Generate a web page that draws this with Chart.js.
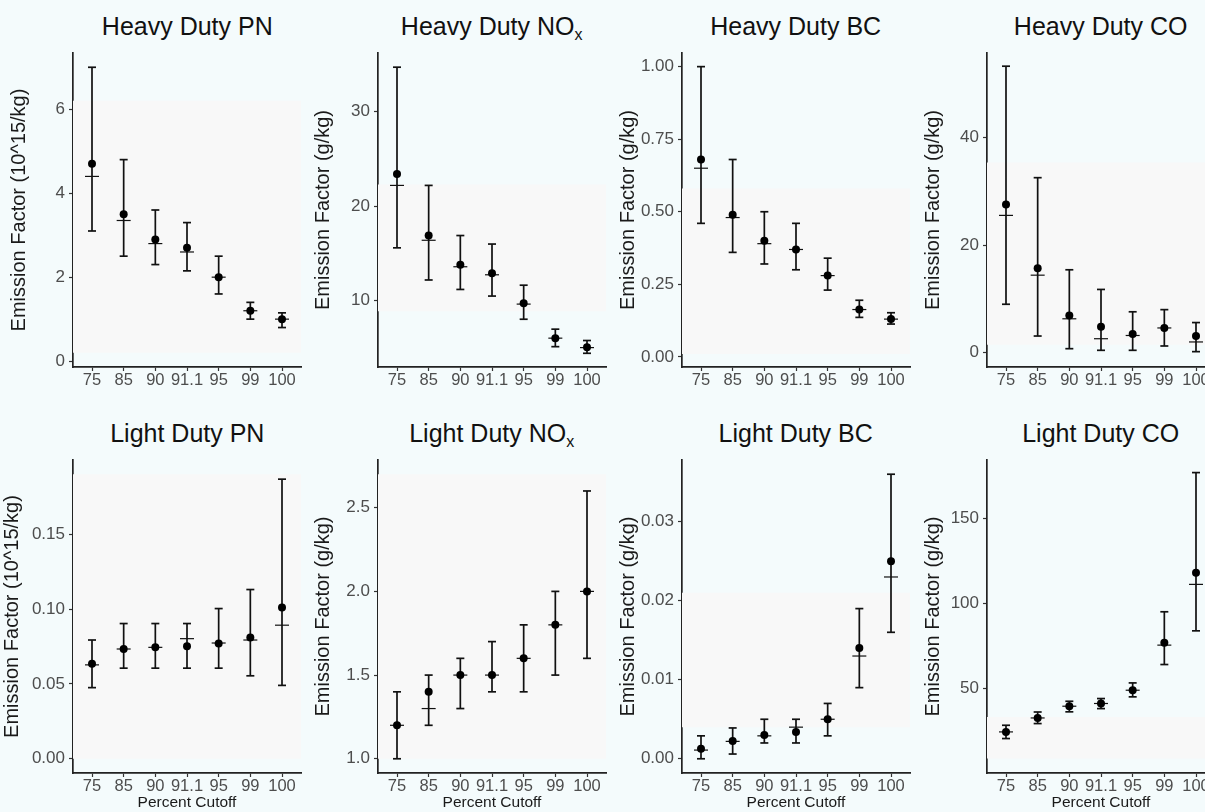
<!DOCTYPE html>
<html><head><meta charset="utf-8">
<script src="https://cdn.jsdelivr.net/npm/chart.js@4.4.1/dist/chart.umd.min.js"></script>
<style>
html,body{margin:0;padding:0;width:1205px;height:812px;overflow:hidden;background:#f4fbfc;position:relative;}
.ptitle{position:absolute;width:228px;text-align:center;font-family:"Liberation Sans",Arial,sans-serif;font-size:25px;line-height:30px;color:#111;white-space:nowrap;}
.ptitle sub{font-size:16px;vertical-align:-5px;line-height:0;}
</style></head><body>
<script>
// ---- data ----
const categories = ['75','85','90','91.1','95','99','100'];

const hdPnMean   = [4.7, 3.5, 2.9, 2.7, 2.0, 1.2, 1.0];
const hdPnMedian = [4.4, 3.35, 2.8, 2.6, 2.0, 1.2, 1.0];
const hdPnLow    = [3.1, 2.5, 2.3, 2.15, 1.6, 1.0, 0.8];
const hdPnHigh   = [7.0, 4.8, 3.6, 3.3, 2.5, 1.4, 1.15];
const hdPnBand   = [0.2, 6.2];
const hdPnTicks  = [0, 2, 4, 6];

const hdNoxMean   = [23.4, 16.9, 13.8, 12.9, 9.75, 6.05, 5.1];
const hdNoxMedian = [22.2, 16.4, 13.6, 12.75, 9.65, 6.05, 5.05];
const hdNoxLow    = [15.6, 12.2, 11.2, 10.5, 8.05, 5.15, 4.45];
const hdNoxHigh   = [34.7, 22.2, 16.9, 16.0, 11.65, 7.0, 5.8];
const hdNoxBand   = [8.9, 22.3];
const hdNoxTicks  = [10, 20, 30];

const hdBcMean   = [0.68, 0.49, 0.40, 0.37, 0.28, 0.163, 0.13];
const hdBcMedian = [0.65, 0.48, 0.39, 0.37, 0.28, 0.163, 0.13];
const hdBcLow    = [0.46, 0.36, 0.32, 0.30, 0.23, 0.136, 0.113];
const hdBcHigh   = [1.00, 0.68, 0.50, 0.46, 0.34, 0.195, 0.152];
const hdBcBand   = [0.01, 0.58];
const hdBcTicks  = [0, 0.25, 0.5, 0.75, 1.0];

const hdCoMean   = [27.5, 15.7, 6.9, 4.8, 3.5, 4.6, 3.1];
const hdCoMedian = [25.5, 14.4, 6.3, 2.6, 3.2, 4.6, 2.0];
const hdCoLow    = [9.0, 3.1, 0.75, 0.45, 0.45, 1.25, 0.2];
const hdCoHigh   = [53.2, 32.5, 15.4, 11.75, 7.6, 8.0, 5.6];
const hdCoBand   = [1.5, 35.3];
const hdCoTicks  = [0, 20, 40];

const ldPnMean   = [0.0634, 0.0733, 0.0744, 0.0751, 0.077, 0.081, 0.101];
const ldPnMedian = [0.0627, 0.0733, 0.0744, 0.0802, 0.0773, 0.0793, 0.0892];
const ldPnLow    = [0.0475, 0.0605, 0.0605, 0.0605, 0.0605, 0.0554, 0.049];
const ldPnHigh   = [0.0793, 0.0903, 0.0903, 0.0903, 0.1003, 0.113, 0.1867];
const ldPnBand   = [0, 0.19];
const ldPnTicks  = [0, 0.05, 0.10, 0.15];

const ldNoxMean   = [1.2, 1.4, 1.5, 1.5, 1.6, 1.8, 2.0];
const ldNoxMedian = [1.2, 1.3, 1.5, 1.5, 1.6, 1.8, 2.0];
const ldNoxLow    = [1.0, 1.2, 1.3, 1.4, 1.4, 1.5, 1.6];
const ldNoxHigh   = [1.4, 1.5, 1.6, 1.7, 1.8, 2.0, 2.6];
const ldNoxBand   = [1.0, 2.7];
const ldNoxTicks  = [1.0, 1.5, 2.0, 2.5];

const ldBcMean   = [0.00126, 0.00226, 0.0030, 0.0034, 0.0050, 0.0140, 0.0250];
const ldBcMedian = [0.0011, 0.0022, 0.0029, 0.0040, 0.0050, 0.0130, 0.0230];
const ldBcLow    = [0.0000, 0.0006, 0.0020, 0.0020, 0.0029, 0.0090, 0.0160];
const ldBcHigh   = [0.0029, 0.0039, 0.0050, 0.0050, 0.0070, 0.0190, 0.0360];
const ldBcBand   = [0.004, 0.021];
const ldBcTicks  = [0, 0.01, 0.02, 0.03];

const ldCoMean   = [24.5, 32.7, 39.6, 41.2, 49.0, 76.9, 118.0];
const ldCoMedian = [24.5, 32.7, 39.6, 41.2, 49.0, 75.5, 111.2];
const ldCoLow    = [20.6, 29.4, 36.3, 38.2, 45.1, 64.1, 83.9];
const ldCoHigh   = [28.4, 36.2, 42.5, 44.1, 53.3, 95.1, 176.9];
const ldCoBand   = [8.8, 33.3];
const ldCoTicks  = [50, 100, 150];

const titles = ['Heavy Duty PN', 'Heavy Duty NO<sub>x</sub>', 'Heavy Duty BC', 'Heavy Duty CO',
                'Light Duty PN', 'Light Duty NO<sub>x</sub>', 'Light Duty BC', 'Light Duty CO'];
const yTitles = ['Emission Factor (10^15/kg)', 'Emission Factor (g/kg)', 'Emission Factor (g/kg)', 'Emission Factor (g/kg)',
                 'Emission Factor (10^15/kg)', 'Emission Factor (g/kg)', 'Emission Factor (g/kg)', 'Emission Factor (g/kg)'];
const xTitle = 'Percent Cutoff';

// ---- layout / panel config ----
const FONT = '"Liberation Sans", Arial, sans-serif';
const AXIS_X = [73.3, 377.7, 681.7, 986.7];
const PLOT_W = 228;
const Y_W = 73;
const Y_TITLE_SIZE = 20;

const panels = [
  {row:0,col:0,mean:hdPnMean,median:hdPnMedian,low:hdPnLow,high:hdPnHigh,band:hdPnBand,ticks:hdPnTicks,min:-0.14,max:7.34,dec:0,dist:54},
  {row:0,col:1,mean:hdNoxMean,median:hdNoxMedian,low:hdNoxLow,high:hdNoxHigh,band:hdNoxBand,ticks:hdNoxTicks,min:3.0,max:36.2,dec:0,dist:55},
  {row:0,col:2,mean:hdBcMean,median:hdBcMedian,low:hdBcLow,high:hdBcHigh,band:hdBcBand,ticks:hdBcTicks,min:-0.035,max:1.047,dec:2,dist:53.5},
  {row:0,col:3,mean:hdCoMean,median:hdCoMedian,low:hdCoLow,high:hdCoHigh,band:hdCoBand,ticks:hdCoTicks,min:-2.65,max:55.65,dec:0,dist:53.7},
  {row:1,col:0,mean:ldPnMean,median:ldPnMedian,low:ldPnLow,high:ldPnHigh,band:ldPnBand,ticks:ldPnTicks,min:-0.0095,max:0.1995,dec:2,dist:61},
  {row:1,col:1,mean:ldNoxMean,median:ldNoxMedian,low:ldNoxLow,high:ldNoxHigh,band:ldNoxBand,ticks:ldNoxTicks,min:0.915,max:2.785,dec:1,dist:55},
  {row:1,col:2,mean:ldBcMean,median:ldBcMedian,low:ldBcLow,high:ldBcHigh,band:ldBcBand,ticks:ldBcTicks,min:-0.0018,max:0.0378,dec:2,dist:53.4},
  {row:1,col:3,mean:ldCoMean,median:ldCoMedian,low:ldCoLow,high:ldCoHigh,band:ldCoBand,ticks:ldCoTicks,min:0.35,max:184.3,dec:0,dist:53.7}
];

const idx = categories.map((c, i) => i);

panels.forEach((p, k) => {
  const axisX = AXIS_X[p.col];
  const W = Y_W + PLOT_W + 2;
  const xH = p.row === 0 ? 28 : 39;
  const H = 8 + (p.row === 0 ? 314 : 313) + xH;
  const top = p.row === 0 ? 45 : 452;

  const t = document.createElement('div');
  t.className = 'ptitle';
  t.style.left = axisX + 'px';
  t.style.top = (p.row === 0 ? 11 : 418) + 'px';
  t.innerHTML = titles[k];
  document.body.appendChild(t);

  const cv = document.createElement('canvas');
  cv.width = W; cv.height = H;
  cv.style.cssText = `position:absolute;left:${axisX - Y_W}px;top:${top}px;width:${W}px;height:${H}px;`;
  document.body.appendChild(cv);

  const whisk = [];
  idx.forEach(i => { whisk.push({x:i, y:p.low[i]}, {x:i, y:p.high[i]}, {x:i, y:null}); });
  const caps = [];
  idx.forEach(i => { caps.push({x:i, y:p.low[i]}, {x:i, y:p.high[i]}); });

  const gridCfg = {drawOnChartArea:false, drawTicks:true, tickLength:4, color:'#333', tickWidth:1.2};
  const borderCfg = {display:true, color:'#222', width:1.7};

  new Chart(cv, {
    type: 'scatter',
    data: {datasets: [
      {label:'band', data:[{x:-0.6, y:p.band[1]}, {x:6.6, y:p.band[1]}], showLine:true, pointRadius:0,
       borderColor:'rgba(0,0,0,0)', borderWidth:1, backgroundColor:'#f8f8f8', fill:{value:p.band[0]}, order:10},
      {label:'whisker', data:whisk, showLine:true, spanGaps:false, pointRadius:0, borderColor:'#111', borderWidth:1.7, fill:false, order:5},
      {label:'caps', data:caps, pointStyle:'line', pointRadius:4, borderColor:'#111', backgroundColor:'#111', borderWidth:1.7, order:4},
      {label:'median', data:idx.map(i => ({x:i, y:p.median[i]})), pointStyle:'line', pointRadius:7, borderColor:'#111', backgroundColor:'#111', borderWidth:1.2, order:3},
      {label:'mean', data:idx.map(i => ({x:i, y:p.mean[i]})), pointStyle:'circle', pointRadius:4, backgroundColor:'#000', borderColor:'#000', borderWidth:0, order:1}
    ]},
    options: {
      responsive:false, animation:false, events:[],
      layout:{autoPadding:false, padding:{top:8, right:2, bottom:0, left:0}},
      plugins:{legend:{display:false}, tooltip:{enabled:false}},
      scales:{
        x:{
          type:'linear', min:-0.6, max:6.6,
          afterBuildTicks: s => { s.ticks = idx.map(i => ({value:i})); },
          afterFit: s => { s.height = xH; s.paddingLeft = 0; s.paddingRight = 0; },
          ticks:{callback: v => categories[v], color:'#4d4d4d', font:{family:FONT, size:16.5}, padding:0, maxRotation:0, autoSkip:false},
          grid:gridCfg, border:borderCfg,
          title:{display: p.row === 1, text:xTitle, color:'#1a1a1a', font:{family:FONT, size:15.5}, padding:{top:0, bottom:0}}
        },
        y:{
          type:'linear', min:p.min, max:p.max,
          afterBuildTicks: s => { s.ticks = p.ticks.map(v => ({value:v})); },
          afterFit: s => { s.width = Y_W; s.paddingTop = 0; s.paddingBottom = 0; },
          ticks:{callback: v => Number(v).toFixed(p.dec), color:'#4d4d4d', font:{family:FONT, size:17}, padding:4},
          grid:gridCfg, border:borderCfg,
          title:{display:true, text:yTitles[k], color:'#1a1a1a', font:{family:FONT, size:Y_TITLE_SIZE},
                 padding:{top: Y_W - p.dist - Y_TITLE_SIZE * 0.6, bottom:0}}
        }
      }
    }
  });
});
</script>
</body></html>
